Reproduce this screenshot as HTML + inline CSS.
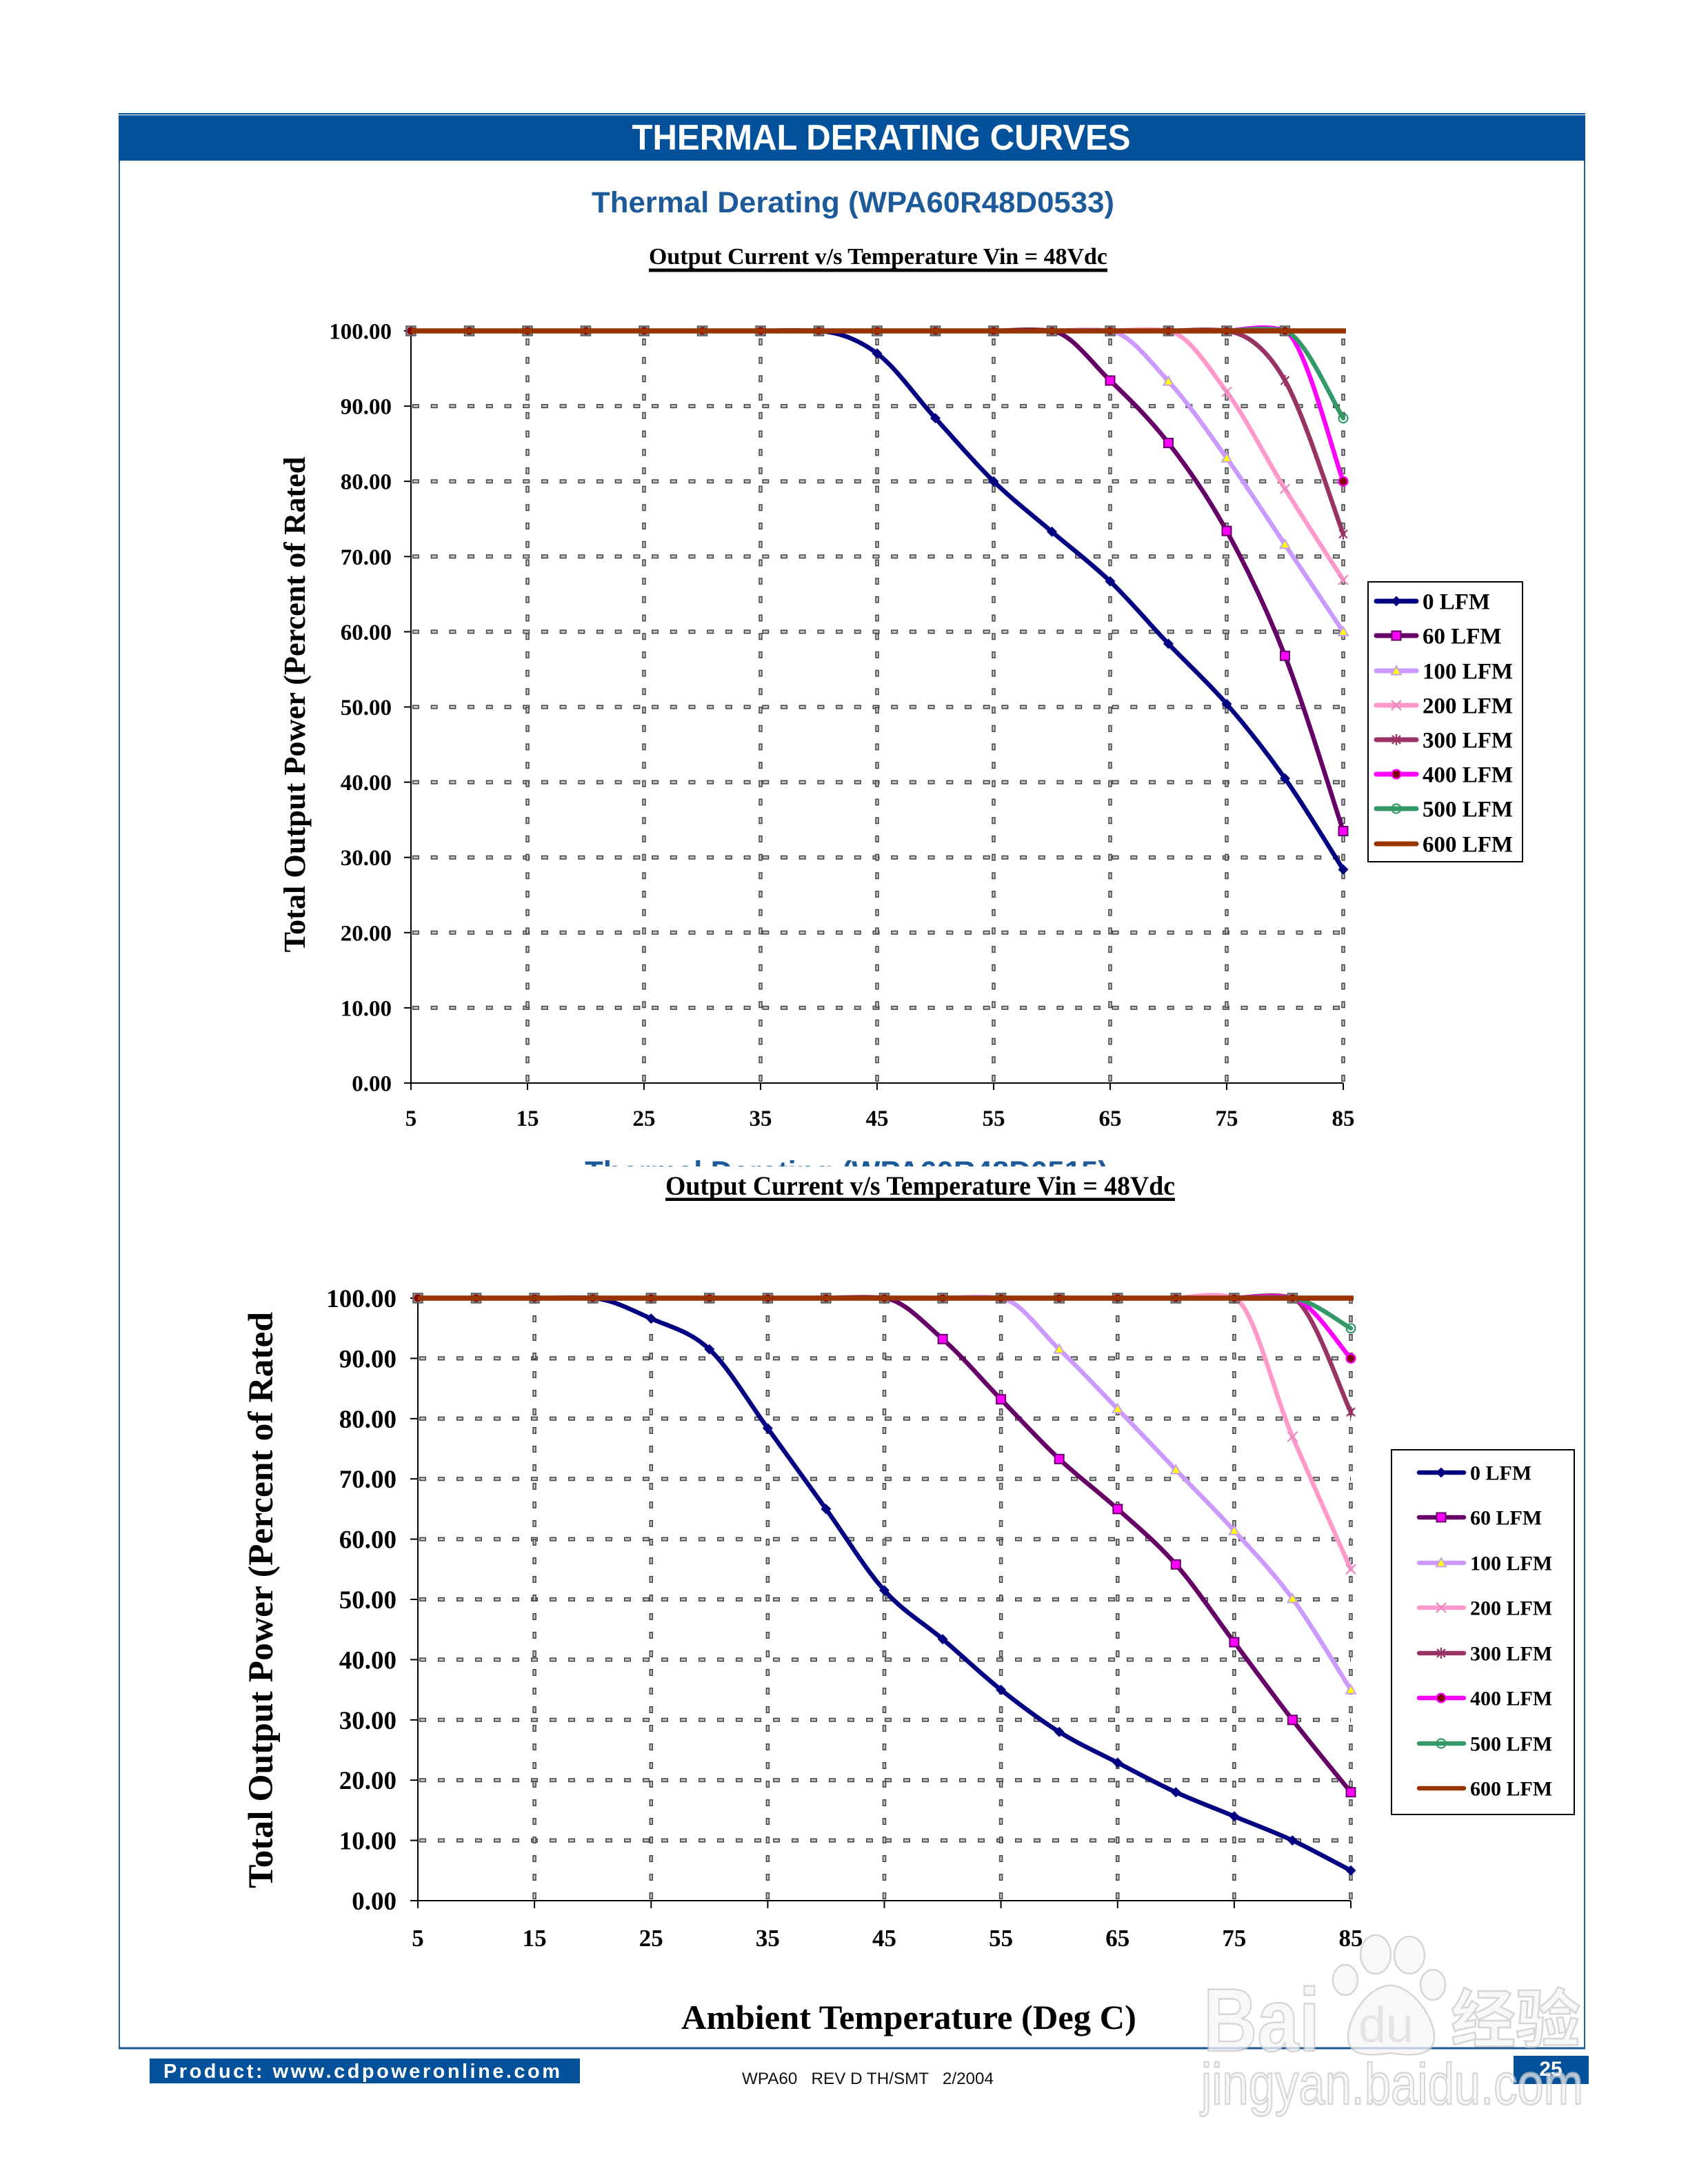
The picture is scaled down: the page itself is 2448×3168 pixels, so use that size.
<!DOCTYPE html>
<html>
<head>
<meta charset="utf-8">
<style>
html,body{margin:0;padding:0;background:#fff;}
body{width:2448px;height:3168px;overflow:hidden;position:relative;}
svg{position:absolute;left:0;top:0;}
.ser{font-family:"Liberation Serif","Times New Roman",serif;font-weight:bold;fill:#000;}
.san{font-family:"Liberation Sans",Arial,sans-serif;}
</style>
</head>
<body>
<svg width="2448" height="3168" viewBox="0 0 2448 3168" xmlns="http://www.w3.org/2000/svg">
<defs>
  <polygon id="dia" points="0,-7.5 7.5,0 0,7.5 -7.5,0" fill="#000080"/>
  <rect id="sq" x="-6.5" y="-6.5" width="13" height="13" fill="#FF00FF" stroke="#660066" stroke-width="2"/>
  <polygon id="tri" points="0,-7 7,5.5 -7,5.5" fill="#FFFF00" stroke="#C8A0F0" stroke-width="2"/>
  <path id="xm" d="M-7,-7L7,7M-7,7L7,-7" stroke="#E889BB" stroke-width="2.2" fill="none"/>
  <path id="st" d="M-6,-6L6,6M-6,6L6,-6M0,-8L0,8" stroke="#993366" stroke-width="2.2" fill="none"/>
  <circle id="c4" r="6.5" fill="#800000" stroke="#FF00FF" stroke-width="2.2"/>
  <circle id="c5" r="6.5" fill="none" stroke="#339966" stroke-width="2.2"/>
  <g id="tm"><rect x="-7" y="-7" width="14" height="14" fill="#8a8a8a" stroke="#555" stroke-width="1.5"/><circle r="5.5" fill="#8B0000"/></g>
</defs>

<!-- Header band and frame -->
<rect x="172" y="164" width="2127" height="69" fill="#03519A"/>
<line x1="172" y1="166.6" x2="2299" y2="166.6" stroke="#dfe8f2" stroke-width="1.2"/>
<text x="1278" y="217" text-anchor="middle" class="san" font-weight="bold" font-size="52" fill="#fff" textLength="723" lengthAdjust="spacingAndGlyphs">THERMAL DERATING CURVES</text>
<line x1="173" y1="233" x2="173" y2="2972" stroke="#2a5f95" stroke-width="2"/>
<line x1="2298" y1="233" x2="2298" y2="2972" stroke="#2a5f95" stroke-width="2"/>
<line x1="172" y1="2971" x2="2299" y2="2971" stroke="#1d558e" stroke-width="3"/>

<!-- Titles chart 1 -->
<text x="1237" y="308" text-anchor="middle" class="san" font-weight="bold" font-size="43" fill="#1C5A99" textLength="758" lengthAdjust="spacingAndGlyphs">Thermal Derating (WPA60R48D0533)</text>
<text x="1273.5" y="383" text-anchor="middle" class="ser" font-size="34" textLength="665" lengthAdjust="spacingAndGlyphs">Output Current v/s Temperature Vin = 48Vdc</text>
<rect x="941" y="389.5" width="665" height="5" fill="#000"/>

<!-- ===== CHART 1 ===== -->
<g>
  <g fill="none">
    <g stroke="#444" stroke-width="6" stroke-dasharray="10 16.7">
      <line x1="598" y1="589.1" x2="1948" y2="589.1"/><line x1="598" y1="698.2" x2="1948" y2="698.2"/><line x1="598" y1="807.3" x2="1948" y2="807.3"/><line x1="598" y1="916.4" x2="1948" y2="916.4"/><line x1="598" y1="1025.5" x2="1948" y2="1025.5"/><line x1="598" y1="1134.6" x2="1948" y2="1134.6"/><line x1="598" y1="1243.7" x2="1948" y2="1243.7"/><line x1="598" y1="1352.8" x2="1948" y2="1352.8"/><line x1="598" y1="1461.9" x2="1948" y2="1461.9"/>
    </g>
    <g stroke="#c4c4c4" stroke-width="3" stroke-dasharray="7 19.7" stroke-dashoffset="-1.5">
      <line x1="598" y1="589.1" x2="1948" y2="589.1"/><line x1="598" y1="698.2" x2="1948" y2="698.2"/><line x1="598" y1="807.3" x2="1948" y2="807.3"/><line x1="598" y1="916.4" x2="1948" y2="916.4"/><line x1="598" y1="1025.5" x2="1948" y2="1025.5"/><line x1="598" y1="1134.6" x2="1948" y2="1134.6"/><line x1="598" y1="1243.7" x2="1948" y2="1243.7"/><line x1="598" y1="1352.8" x2="1948" y2="1352.8"/><line x1="598" y1="1461.9" x2="1948" y2="1461.9"/>
    </g>
    <g stroke="#444" stroke-width="5.5" stroke-dasharray="10 16.7">
      <line x1="765" y1="1569" x2="765" y2="482"/><line x1="934" y1="1569" x2="934" y2="482"/><line x1="1103" y1="1569" x2="1103" y2="482"/><line x1="1272" y1="1569" x2="1272" y2="482"/><line x1="1441" y1="1569" x2="1441" y2="482"/><line x1="1610" y1="1569" x2="1610" y2="482"/><line x1="1779" y1="1569" x2="1779" y2="482"/><line x1="1948" y1="1569" x2="1948" y2="482"/>
    </g>
    <g stroke="#c4c4c4" stroke-width="2.5" stroke-dasharray="7 19.7" stroke-dashoffset="-1.5">
      <line x1="765" y1="1569" x2="765" y2="482"/><line x1="934" y1="1569" x2="934" y2="482"/><line x1="1103" y1="1569" x2="1103" y2="482"/><line x1="1272" y1="1569" x2="1272" y2="482"/><line x1="1441" y1="1569" x2="1441" y2="482"/><line x1="1610" y1="1569" x2="1610" y2="482"/><line x1="1779" y1="1569" x2="1779" y2="482"/><line x1="1948" y1="1569" x2="1948" y2="482"/>
    </g>
  </g>
  <g stroke="#000" stroke-width="2">
    <line x1="596" y1="480" x2="596" y2="1572"/>
    <line x1="586" y1="1571" x2="1948" y2="1571"/>
    <line x1="586" y1="480" x2="596" y2="480"/><line x1="586" y1="589.1" x2="596" y2="589.1"/><line x1="586" y1="698.2" x2="596" y2="698.2"/><line x1="586" y1="807.3" x2="596" y2="807.3"/><line x1="586" y1="916.4" x2="596" y2="916.4"/><line x1="586" y1="1025.5" x2="596" y2="1025.5"/><line x1="586" y1="1134.6" x2="596" y2="1134.6"/><line x1="586" y1="1243.7" x2="596" y2="1243.7"/><line x1="586" y1="1352.8" x2="596" y2="1352.8"/><line x1="586" y1="1461.9" x2="596" y2="1461.9"/>
    <line x1="596" y1="1571" x2="596" y2="1581"/><line x1="765" y1="1571" x2="765" y2="1581"/><line x1="934" y1="1571" x2="934" y2="1581"/><line x1="1103" y1="1571" x2="1103" y2="1581"/><line x1="1272" y1="1571" x2="1272" y2="1581"/><line x1="1441" y1="1571" x2="1441" y2="1581"/><line x1="1610" y1="1571" x2="1610" y2="1581"/><line x1="1779" y1="1571" x2="1779" y2="1581"/><line x1="1948" y1="1571" x2="1948" y2="1581"/>
  </g>
  <g class="ser" font-size="33" text-anchor="end">
    <text x="568" y="491.5">100.00</text><text x="568" y="600.6">90.00</text><text x="568" y="709.7">80.00</text><text x="568" y="818.8">70.00</text><text x="568" y="927.9">60.00</text><text x="568" y="1037">50.00</text><text x="568" y="1146.1">40.00</text><text x="568" y="1255.2">30.00</text><text x="568" y="1364.3">20.00</text><text x="568" y="1473.4">10.00</text><text x="568" y="1582.5">0.00</text>
  </g>
  <g class="ser" font-size="33" text-anchor="middle">
    <text x="596" y="1633">5</text><text x="765" y="1633">15</text><text x="934" y="1633">25</text><text x="1103" y="1633">35</text><text x="1272" y="1633">45</text><text x="1441" y="1633">55</text><text x="1610" y="1633">65</text><text x="1779" y="1633">75</text><text x="1948" y="1633">85</text>
  </g>
  <text transform="translate(442,1022) rotate(-90)" text-anchor="middle" class="ser" font-size="44" textLength="719" lengthAdjust="spacingAndGlyphs">Total Output Power (Percent of Rated</text>

  <g fill="none" stroke-width="6.5" stroke-linejoin="round" stroke-linecap="round">
    <polyline class="s" stroke="#000080" points="1103,480 1187.5,480 1272,512.7 1356.5,606.6 1441,698.2 1525.5,771.3 1610,843.3 1694.5,933.9 1779,1021.1 1863.5,1129.1 1948,1261.2"/>
    <polyline class="s" stroke="#660066" points="1441,480 1525.5,480 1610,552 1694.5,642.6 1779,770.2 1863.5,951.3 1948,1205.5"/>
    <polyline class="s" stroke="#CC99FF" points="1525.5,480 1610,480 1694.5,553.1 1779,664.4 1863.5,789.8 1948,916.4"/>
    <polyline class="s" stroke="#FF99CC" points="1610,480 1694.5,480 1779,568.4 1863.5,709.1 1948,841.1"/>
    <polyline class="s" stroke="#993366" points="1694.5,480 1779,480 1863.5,552 1948,774.6"/>
    <polyline class="s" stroke="#FF00FF" points="1779,480 1863.5,480 1948,698.2"/>
    <polyline class="s" stroke="#339966" points="1779,480 1863.5,480 1948,606.6"/>
  </g>
  <g>
    <use href="#dia" x="1272" y="512.7"/><use href="#dia" x="1356.5" y="606.6"/><use href="#dia" x="1441" y="698.2"/><use href="#dia" x="1525.5" y="771.3"/><use href="#dia" x="1610" y="843.3"/><use href="#dia" x="1694.5" y="933.9"/><use href="#dia" x="1779" y="1021.1"/><use href="#dia" x="1863.5" y="1129.1"/><use href="#dia" x="1948" y="1261.2"/>
    <use href="#sq" x="1610" y="552"/><use href="#sq" x="1694.5" y="642.6"/><use href="#sq" x="1779" y="770.2"/><use href="#sq" x="1863.5" y="951.3"/><use href="#sq" x="1948" y="1205.5"/>
    <use href="#tri" x="1694.5" y="553.1"/><use href="#tri" x="1779" y="664.4"/><use href="#tri" x="1863.5" y="789.8"/><use href="#tri" x="1948" y="916.4"/>
    <use href="#xm" x="1779" y="568.4"/><use href="#xm" x="1863.5" y="709.1"/><use href="#xm" x="1948" y="841.1"/>
    <use href="#st" x="1863.5" y="552"/><use href="#st" x="1948" y="774.6"/>
    <use href="#c4" x="1948" y="698.2"/>
    <use href="#c5" x="1948" y="606.6"/>
  </g>
  <g>
    <use href="#tm" x="596" y="480"/><use href="#tm" x="680.5" y="480"/><use href="#tm" x="765" y="480"/><use href="#tm" x="849.5" y="480"/><use href="#tm" x="934" y="480"/><use href="#tm" x="1018.5" y="480"/><use href="#tm" x="1103" y="480"/><use href="#tm" x="1187.5" y="480"/><use href="#tm" x="1272" y="480"/><use href="#tm" x="1356.5" y="480"/><use href="#tm" x="1441" y="480"/><use href="#tm" x="1525.5" y="480"/><use href="#tm" x="1610" y="480"/><use href="#tm" x="1694.5" y="480"/><use href="#tm" x="1779" y="480"/><use href="#tm" x="1863.5" y="480"/>
  </g>
  <line x1="596" y1="480" x2="1952" y2="480" stroke="#993300" stroke-width="7.5"/>

  <!-- legend 1 -->
  <rect x="1984" y="844" width="224" height="406" fill="#fff" stroke="#000" stroke-width="2"/>
  <g stroke-width="7" stroke-linecap="round">
    <line x1="1996" y1="872" x2="2054" y2="872" stroke="#000080"/>
    <line x1="1996" y1="922" x2="2054" y2="922" stroke="#660066"/>
    <line x1="1996" y1="973" x2="2054" y2="973" stroke="#CC99FF"/>
    <line x1="1996" y1="1023" x2="2054" y2="1023" stroke="#FF99CC"/>
    <line x1="1996" y1="1073" x2="2054" y2="1073" stroke="#993366"/>
    <line x1="1996" y1="1123" x2="2054" y2="1123" stroke="#FF00FF"/>
    <line x1="1996" y1="1173" x2="2054" y2="1173" stroke="#339966"/>
    <line x1="1996" y1="1224" x2="2054" y2="1224" stroke="#993300"/>
  </g>
  <use href="#dia" x="2025" y="872"/><use href="#sq" x="2025" y="922"/><use href="#tri" x="2025" y="973"/><use href="#xm" x="2025" y="1023"/><use href="#st" x="2025" y="1073"/><use href="#c4" x="2025" y="1123"/><use href="#c5" x="2025" y="1173"/>
  <g class="ser" font-size="33">
    <text x="2063" y="883.5">0 LFM</text><text x="2063" y="933.5">60 LFM</text><text x="2063" y="984.5">100 LFM</text><text x="2063" y="1034.5">200 LFM</text><text x="2063" y="1084.5">300 LFM</text><text x="2063" y="1134.5">400 LFM</text><text x="2063" y="1184.5">500 LFM</text><text x="2063" y="1235.5">600 LFM</text>
  </g>
</g>

<!-- hidden second subtitle -->
<text x="1227.5" y="1714" text-anchor="middle" class="san" font-weight="bold" font-size="43" fill="#1C5A99" textLength="759" lengthAdjust="spacingAndGlyphs">Thermal Derating (WPA60R48D0515)</text>
<rect x="400" y="1692" width="1890" height="80" fill="#fff"/>

<!-- ===== CHART 2 ===== -->
<text x="1334.5" y="1733" text-anchor="middle" class="ser" font-size="39" textLength="739" lengthAdjust="spacingAndGlyphs">Output Current v/s Temperature Vin = 48Vdc</text>
<rect x="965" y="1737.5" width="739" height="4.5" fill="#000"/>
<g>
  <g fill="none">
    <g stroke="#444" stroke-width="6" stroke-dasharray="10 17">
      <line x1="608" y1="1970.4" x2="1959" y2="1970.4"/><line x1="608" y1="2057.8" x2="1959" y2="2057.8"/><line x1="608" y1="2145.2" x2="1959" y2="2145.2"/><line x1="608" y1="2232.6" x2="1959" y2="2232.6"/><line x1="608" y1="2320" x2="1959" y2="2320"/><line x1="608" y1="2407.4" x2="1959" y2="2407.4"/><line x1="608" y1="2494.8" x2="1959" y2="2494.8"/><line x1="608" y1="2582.2" x2="1959" y2="2582.2"/><line x1="608" y1="2669.6" x2="1959" y2="2669.6"/>
    </g>
    <g stroke="#c4c4c4" stroke-width="3" stroke-dasharray="7 20" stroke-dashoffset="-1.5">
      <line x1="608" y1="1970.4" x2="1959" y2="1970.4"/><line x1="608" y1="2057.8" x2="1959" y2="2057.8"/><line x1="608" y1="2145.2" x2="1959" y2="2145.2"/><line x1="608" y1="2232.6" x2="1959" y2="2232.6"/><line x1="608" y1="2320" x2="1959" y2="2320"/><line x1="608" y1="2407.4" x2="1959" y2="2407.4"/><line x1="608" y1="2494.8" x2="1959" y2="2494.8"/><line x1="608" y1="2582.2" x2="1959" y2="2582.2"/><line x1="608" y1="2669.6" x2="1959" y2="2669.6"/>
    </g>
    <g stroke="#444" stroke-width="5.5" stroke-dasharray="10 17">
      <line x1="775.1" y1="2755" x2="775.1" y2="1885"/><line x1="944.3" y1="2755" x2="944.3" y2="1885"/><line x1="1113.4" y1="2755" x2="1113.4" y2="1885"/><line x1="1282.5" y1="2755" x2="1282.5" y2="1885"/><line x1="1451.6" y1="2755" x2="1451.6" y2="1885"/><line x1="1620.8" y1="2755" x2="1620.8" y2="1885"/><line x1="1789.9" y1="2755" x2="1789.9" y2="1885"/><line x1="1959" y1="2755" x2="1959" y2="1885"/>
    </g>
    <g stroke="#c4c4c4" stroke-width="2.5" stroke-dasharray="7 20" stroke-dashoffset="-1.5">
      <line x1="775.1" y1="2755" x2="775.1" y2="1885"/><line x1="944.3" y1="2755" x2="944.3" y2="1885"/><line x1="1113.4" y1="2755" x2="1113.4" y2="1885"/><line x1="1282.5" y1="2755" x2="1282.5" y2="1885"/><line x1="1451.6" y1="2755" x2="1451.6" y2="1885"/><line x1="1620.8" y1="2755" x2="1620.8" y2="1885"/><line x1="1789.9" y1="2755" x2="1789.9" y2="1885"/><line x1="1959" y1="2755" x2="1959" y2="1885"/>
    </g>
  </g>
  <g stroke="#000" stroke-width="2">
    <line x1="606" y1="1883" x2="606" y2="2758"/>
    <line x1="595" y1="2757" x2="1959" y2="2757"/>
    <line x1="595" y1="1883" x2="606" y2="1883"/><line x1="595" y1="1970.4" x2="606" y2="1970.4"/><line x1="595" y1="2057.8" x2="606" y2="2057.8"/><line x1="595" y1="2145.2" x2="606" y2="2145.2"/><line x1="595" y1="2232.6" x2="606" y2="2232.6"/><line x1="595" y1="2320" x2="606" y2="2320"/><line x1="595" y1="2407.4" x2="606" y2="2407.4"/><line x1="595" y1="2494.8" x2="606" y2="2494.8"/><line x1="595" y1="2582.2" x2="606" y2="2582.2"/><line x1="595" y1="2669.6" x2="606" y2="2669.6"/>
    <line x1="606" y1="2757" x2="606" y2="2768"/><line x1="775.1" y1="2757" x2="775.1" y2="2768"/><line x1="944.3" y1="2757" x2="944.3" y2="2768"/><line x1="1113.4" y1="2757" x2="1113.4" y2="2768"/><line x1="1282.5" y1="2757" x2="1282.5" y2="2768"/><line x1="1451.6" y1="2757" x2="1451.6" y2="2768"/><line x1="1620.8" y1="2757" x2="1620.8" y2="2768"/><line x1="1789.9" y1="2757" x2="1789.9" y2="2768"/><line x1="1959" y1="2757" x2="1959" y2="2768"/>
  </g>
  <g class="ser" font-size="37" text-anchor="end">
    <text x="575" y="1896">100.00</text><text x="575" y="1983.4">90.00</text><text x="575" y="2070.8">80.00</text><text x="575" y="2158.2">70.00</text><text x="575" y="2245.6">60.00</text><text x="575" y="2333">50.00</text><text x="575" y="2420.4">40.00</text><text x="575" y="2507.8">30.00</text><text x="575" y="2595.2">20.00</text><text x="575" y="2682.6">10.00</text><text x="575" y="2770">0.00</text>
  </g>
  <g class="ser" font-size="35" text-anchor="middle">
    <text x="606" y="2823">5</text><text x="775.1" y="2823">15</text><text x="944.3" y="2823">25</text><text x="1113.4" y="2823">35</text><text x="1282.5" y="2823">45</text><text x="1451.6" y="2823">55</text><text x="1620.8" y="2823">65</text><text x="1789.9" y="2823">75</text><text x="1959" y="2823">85</text>
  </g>
  <text transform="translate(395,2321) rotate(-90)" text-anchor="middle" class="ser" font-size="51" textLength="836" lengthAdjust="spacingAndGlyphs">Total Output Power (Percent of Rated</text>
  <text x="1318" y="2943" text-anchor="middle" class="ser" font-size="50" textLength="660" lengthAdjust="spacingAndGlyphs">Ambient Temperature (Deg C)</text>

  <g fill="none" stroke-width="6.5" stroke-linejoin="round" stroke-linecap="round">
    <polyline class="s" stroke="#000080" points="690.6,1883 775.1,1883 859.7,1883 944.3,1912.7 1028.8,1957.3 1113.4,2071.8 1197.9,2188.9 1282.5,2306.9 1367.1,2377.7 1451.6,2451.1 1536.2,2512.3 1620.8,2556.9 1705.3,2599.7 1789.9,2634.6 1874.4,2669.6 1959,2713.3"/>
    <polyline class="s" stroke="#660066" points="1197.9,1883 1282.5,1883 1367.1,1942.4 1451.6,2029.8 1536.2,2116.4 1620.8,2188.9 1705.3,2269.3 1789.9,2382.1 1874.4,2494.8 1959,2599.7"/>
    <polyline class="s" stroke="#CC99FF" points="1367.1,1883 1451.6,1883 1536.2,1957.3 1620.8,2043.8 1705.3,2132.1 1789.9,2220.4 1874.4,2318.9 1959,2451.1"/>
    <polyline class="s" stroke="#FF99CC" points="1705.3,1883 1789.9,1883 1874.4,2084 1959,2276.3"/>
    <polyline class="s" stroke="#993366" points="1789.9,1883 1874.4,1883 1959,2048.2"/>
    <polyline class="s" stroke="#FF00FF" points="1789.9,1883 1874.4,1883 1959,1970.4"/>
    <polyline class="s" stroke="#339966" points="1789.9,1883 1874.4,1883 1959,1926.7"/>
  </g>
  <g>
    <use href="#dia" x="944.3" y="1912.7"/><use href="#dia" x="1028.8" y="1957.3"/><use href="#dia" x="1113.4" y="2071.8"/><use href="#dia" x="1197.9" y="2188.9"/><use href="#dia" x="1282.5" y="2306.9"/><use href="#dia" x="1367.1" y="2377.7"/><use href="#dia" x="1451.6" y="2451.1"/><use href="#dia" x="1536.2" y="2512.3"/><use href="#dia" x="1620.8" y="2556.9"/><use href="#dia" x="1705.3" y="2599.7"/><use href="#dia" x="1789.9" y="2634.6"/><use href="#dia" x="1874.4" y="2669.6"/><use href="#dia" x="1959" y="2713.3"/>
    <use href="#sq" x="1367.1" y="1942.4"/><use href="#sq" x="1451.6" y="2029.8"/><use href="#sq" x="1536.2" y="2116.4"/><use href="#sq" x="1620.8" y="2188.9"/><use href="#sq" x="1705.3" y="2269.3"/><use href="#sq" x="1789.9" y="2382.1"/><use href="#sq" x="1874.4" y="2494.8"/><use href="#sq" x="1959" y="2599.7"/>
    <use href="#tri" x="1536.2" y="1957.3"/><use href="#tri" x="1620.8" y="2043.8"/><use href="#tri" x="1705.3" y="2132.1"/><use href="#tri" x="1789.9" y="2220.4"/><use href="#tri" x="1874.4" y="2318.9"/><use href="#tri" x="1959" y="2451.1"/>
    <use href="#xm" x="1874.4" y="2084"/><use href="#xm" x="1959" y="2276.3"/>
    <use href="#st" x="1959" y="2048.2"/>
    <use href="#c4" x="1959" y="1970.4"/>
    <use href="#c5" x="1959" y="1926.7"/>
  </g>
  <g>
    <use href="#tm" x="606" y="1883"/><use href="#tm" x="690.6" y="1883"/><use href="#tm" x="775.1" y="1883"/><use href="#tm" x="859.7" y="1883"/><use href="#tm" x="944.3" y="1883"/><use href="#tm" x="1028.8" y="1883"/><use href="#tm" x="1113.4" y="1883"/><use href="#tm" x="1197.9" y="1883"/><use href="#tm" x="1282.5" y="1883"/><use href="#tm" x="1367.1" y="1883"/><use href="#tm" x="1451.6" y="1883"/><use href="#tm" x="1536.2" y="1883"/><use href="#tm" x="1620.8" y="1883"/><use href="#tm" x="1705.3" y="1883"/><use href="#tm" x="1789.9" y="1883"/><use href="#tm" x="1874.4" y="1883"/>
  </g>
  <line x1="606" y1="1883" x2="1963" y2="1883" stroke="#993300" stroke-width="7.5"/>

  <!-- legend 2 -->
  <rect x="2018" y="2103" width="265" height="529" fill="#fff" stroke="#000" stroke-width="2"/>
  <g stroke-width="6.5" stroke-linecap="round">
    <line x1="2058" y1="2136" x2="2123" y2="2136" stroke="#000080"/>
    <line x1="2058" y1="2201" x2="2123" y2="2201" stroke="#660066"/>
    <line x1="2058" y1="2267" x2="2123" y2="2267" stroke="#CC99FF"/>
    <line x1="2058" y1="2332" x2="2123" y2="2332" stroke="#FF99CC"/>
    <line x1="2058" y1="2398" x2="2123" y2="2398" stroke="#993366"/>
    <line x1="2058" y1="2463" x2="2123" y2="2463" stroke="#FF00FF"/>
    <line x1="2058" y1="2529" x2="2123" y2="2529" stroke="#339966"/>
    <line x1="2058" y1="2594" x2="2123" y2="2594" stroke="#993300"/>
  </g>
  <use href="#dia" x="2090" y="2136"/><use href="#sq" x="2090" y="2201"/><use href="#tri" x="2090" y="2267"/><use href="#xm" x="2090" y="2332"/><use href="#st" x="2090" y="2398"/><use href="#c4" x="2090" y="2463"/><use href="#c5" x="2090" y="2529"/>
  <g class="ser" font-size="30">
    <text x="2132" y="2146.5">0 LFM</text><text x="2132" y="2211.5">60 LFM</text><text x="2132" y="2277.5">100 LFM</text><text x="2132" y="2342.5">200 LFM</text><text x="2132" y="2408.5">300 LFM</text><text x="2132" y="2473.5">400 LFM</text><text x="2132" y="2539.5">500 LFM</text><text x="2132" y="2604.5">600 LFM</text>
  </g>
</g>

<!-- footer -->
<rect x="217" y="2986" width="624" height="36" fill="#03519A"/>
<text x="237" y="3014" class="san" font-weight="bold" font-size="29" fill="#fff" textLength="575" lengthAdjust="spacing">Product: www.cdpoweronline.com</text>
<text x="1076" y="3023" class="san" font-size="24" fill="#111" textLength="365" lengthAdjust="spacingAndGlyphs" style="white-space:pre">WPA60   REV D TH/SMT   2/2004</text>
<rect x="2195" y="2982" width="109" height="41" fill="#03519A"/>
<text x="2249" y="3011" text-anchor="middle" class="san" font-weight="bold" font-size="30" fill="#fff">25</text>

<!-- watermark -->
<g opacity="0.75" fill="#f6f6f6" stroke="#c9c9c9" stroke-width="2.5">
  <text x="1745" y="2975" class="san" font-weight="bold" font-size="130" textLength="169" lengthAdjust="spacingAndGlyphs">Bai</text>
  <ellipse cx="1951" cy="2872" rx="18" ry="22"/>
  <ellipse cx="1995" cy="2835" rx="22" ry="28"/>
  <ellipse cx="2044" cy="2836" rx="22" ry="27"/>
  <ellipse cx="2078" cy="2879" rx="18" ry="22"/>
  <path d="M2016,2880 C1985,2880 1955,2925 1955,2955 C1955,2985 1990,2982 2016,2978 C2042,2982 2080,2985 2080,2955 C2080,2925 2047,2880 2016,2880 Z"/>
  <text x="2010" y="2962" text-anchor="middle" class="san" font-size="72" fill="#dcdcdc" stroke="none">du</text>
  <text x="2104" y="2962" font-family="'Noto Sans CJK SC','WenQuanYi Zen Hei',sans-serif" font-weight="bold" font-size="92" textLength="188" lengthAdjust="spacingAndGlyphs">经验</text>
  <text x="1742" y="3052" class="san" font-size="84" textLength="554" lengthAdjust="spacingAndGlyphs">jingyan.baidu.com</text>
</g>
</svg>
<script>
(function(){
  var NS="http://www.w3.org/2000/svg";
  var pls=document.querySelectorAll('polyline.s');
  for(var k=0;k<pls.length;k++){
    var pl=pls[k];
    var p=pl.getAttribute('points').trim().split(/\s+/).map(function(s){return s.split(',').map(Number);});
    var n=p.length, m=[];
    for(var i=0;i<n;i++){
      var a=p[i-1]||p[i], b=p[i+1]||p[i];
      var tx=(b[0]-a[0])/6, ty=(b[1]-a[1])/6;
      if(i>0 && Math.abs(p[i-1][1]-p[i][1])<0.01){ ty*=0.3; }
      m.push([tx,ty]);
    }
    var d='M'+p[0][0]+','+p[0][1];
    for(var i=0;i<n-1;i++){
      var p1=p[i],p2=p[i+1];
      var c1x=p1[0]+m[i][0],c1y=p1[1]+m[i][1];
      var c2x=p2[0]-m[i+1][0],c2y=p2[1]-m[i+1][1];
      d+=' C'+c1x.toFixed(1)+','+c1y.toFixed(1)+' '+c2x.toFixed(1)+','+c2y.toFixed(1)+' '+p2[0]+','+p2[1];
    }
    var path=document.createElementNS(NS,'path');
    path.setAttribute('d',d);
    path.setAttribute('stroke',pl.getAttribute('stroke'));
    pl.parentNode.insertBefore(path,pl);
    pl.parentNode.removeChild(pl);
  }
})();
</script>
</body>
</html>
